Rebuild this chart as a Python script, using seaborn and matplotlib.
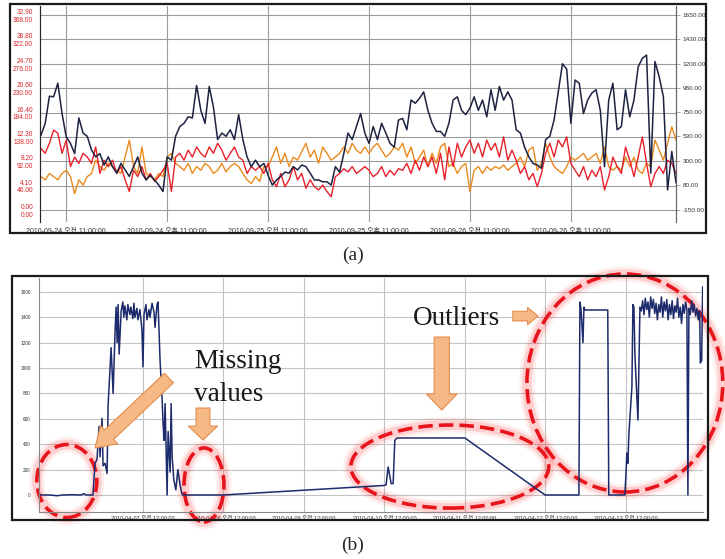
import matplotlib
matplotlib.use("Agg")
import matplotlib.pyplot as plt
import seaborn as sns
import numpy as np
import pandas as pd
from matplotlib.patches import Ellipse, Rectangle, FancyArrowPatch, ArrowStyle
from matplotlib.ticker import FixedLocator, FuncFormatter

# ---- panel (a): three sensors, half-hourly from 2010-09-24 08:00 ----
a_first_hour = 8.0
a_step = 0.5
navy_a = [540, 650, 900, 895, 1020, 740, 525, 465, 370, 700, 560, 530, 405, 340, 370, 265, 340, 250, 190, 280,
          220, 160, 250, 340, 190, 127, 170, 127, 80, 20, 340, 310, 530, 620, 650, 710, 700, 1000, 770, 650,
          990, 800, 500, 560, 530, 590, 500, 730, 500, 340, 250, 310, 250, 280, 170, 80, 127, 160, 200, 190,
          250, 220, 265, 250, 190, 127, 127, 110, 110, 80, 250, 200, 370, 560, 500, 620, 740, 560, 465, 620,
          500, 650, 560, 465, 430, 680, 695, 590, 865, 835, 880, 940, 770, 650, 575, 575, 530, 650, 865, 895,
          770, 730, 790, 895, 770, 865, 710, 960, 770, 990, 865, 940, 865, 590, 560, 430, 340, 280, 265, 235,
          500, 530, 680, 940, 1200, 1150, 650, 1050, 1020, 740, 865, 930, 960, 770, 250, 865, 1020, 590, 620, 960,
          710, 865, 1170, 1250, 1280, 190, 1220, 1080, 895, 35, 390, 100]
red_a = [116, 107, 126, 151, 145, 107, 132, 82, 100, 88, 107, 100, 88, 119, 69, 94, 82, 94, 69, 82,
         57, 35, 75, 63, 82, 57, 69, 54, 63, 75, 88, 35, 100, 107, 94, 113, 100, 119, 107, 100,
         119, 107, 126, 113, 94, 107, 119, 100, 94, 69, 82, 75, 82, 69, 88, 57, 44, 69, 44, 57,
         82, 57, 69, 41, 57, 44, 38, 47, 35, 25, 63, 69, 78, 72, 82, 69, 75, 82, 75, 63,
         69, 82, 63, 75, 66, 78, 75, 88, 69, 94, 75, 100, 82, 100, 69, 107, 57, 119, 82, 126,
         100, 119, 132, 107, 126, 100, 132, 113, 126, 100, 138, 94, 113, 94, 69, 82, 57, 69, 44, 69,
         107, 126, 100, 132, 119, 138, 88, 75, 63, 82, 57, 75, 63, 82, 38, 63, 100, 82, 69, 119,
         94, 63, 100, 138, 88, 44, 69, 82, 69, 94, 88, 69]
orange_a = [63, 57, 69, 63, 57, 69, 75, 63, 31, 57, 47, 63, 69, 94, 82, 75, 88, 82, 75, 69,
            100, 132, 82, 69, 119, 69, 63, 57, 69, 63, 100, 107, 88, 82, 75, 88, 69, 82, 75, 88,
            82, 69, 75, 88, 72, 82, 88, 82, 69, 57, 50, 63, 54, 82, 82, 100, 119, 88, 107, 82,
            100, 94, 110, 126, 100, 113, 88, 119, 107, 94, 100, 107, 119, 107, 126, 113, 107, 119, 107, 119,
            126, 113, 100, 107, 119, 113, 126, 100, 119, 88, 100, 113, 82, 107, 88, 119, 126, 82, 88, 69,
            82, 88, 35, 75, 82, 69, 82, 75, 82, 78, 85, 75, 82, 88, 100, 82, 113, 119, 75, 88,
            126, 100, 82, 75, 69, 82, 100, 94, 100, 107, 94, 100, 107, 88, 119, 82, 75, 82, 75, 100,
            82, 100, 75, 69, 88, 82, 132, 113, 94, 126, 157, 132]

a_left_ticks = [0, 46, 92, 138, 184, 230, 276, 322, 368]
a_left_alt = [0.00, 4.10, 8.20, 12.30, 16.40, 20.60, 24.70, 28.80, 32.90]
a_right_ticks = [-150, 80, 300, 530, 750, 980, 1200, 1430, 1650]
a_xticks = [11, 23, 35, 47, 59, 71]          # hours after 2010-09-24 00:00

# ---- panel (b): one sensor, hours after 2010-04-05 00:00 ----
hours_b = [17.0, 20.0, 22.5, 24.0, 27.0, 29.5, 30.5, 31.0, 33.1,
           33.7, 34.3, 34.9, 35.2, 35.8, 36.1, 36.7, 37.3,
           37.6, 38.2, 38.5, 39.1, 39.7, 40.0, 40.3, 40.6, 40.9, 41.5, 42.0, 42.3, 42.6, 43.2, 43.5, 44.1,
           44.4, 45.0, 45.3, 45.6, 46.2, 46.5, 47.1, 47.7, 48.0, 48.3, 48.9, 49.2, 49.8, 50.1, 50.7, 51.3,
           51.6, 52.2, 52.5,
           53.1, 53.7, 54.0, 54.3, 54.6, 54.9, 55.2, 55.5, 56.1, 56.4, 56.7, 57.2, 57.8, 58.4, 59.0, 59.6,
           59.9, 71.9,
           119.9, 120.5, 121.1, 121.4, 122.0, 122.6, 123.1, 123.7, 144.0,
           167.9, 178.0, 178.3, 178.6, 179.2, 179.5, 179.8, 186.6, 186.9, 191.7,
           192.0, 192.3, 192.6, 192.9, 193.5, 193.8, 194.1, 194.4, 194.7, 195.6, 196.2,
           196.6, 197.0, 197.4, 197.8, 198.2, 198.6, 199.0, 199.4, 199.8, 200.2, 200.6, 201.0, 201.4, 201.8,
           202.2, 202.6, 203.0, 203.4, 203.8, 204.2, 204.6, 205.0, 205.4, 205.8, 206.2, 206.6, 207.0, 207.4,
           207.8, 208.2, 208.6, 209.0, 209.4, 209.8, 210.2, 210.5, 210.8, 211.2, 211.6, 212.0, 212.4, 212.8,
           213.2, 213.6, 214.0, 214.2, 214.6, 214.9]
values_b = [0, 0, -6, 0, 2, 0, 10, 0, 0,
            250, 280, 540, 300, 604, 230, 250, 170,
            700, 1000, 1160, 800, 1300, 1480, 1200, 1500, 1110, 1450, 1520, 1400, 1490, 1380, 1500, 1420,
            1480, 1390, 1510, 1400, 1470, 1380, 1460, 1300, 1010, 1420, 1500, 1380, 1460, 1400, 1510, 1440,
            1320, 1500, 1520,
            1060, 760, 560, 430, 720, 350, 0, 500, 180, 720, 300, 120, 40, 200, 90, 10,
            0, 0,
            75, 80, 220, 180, 90, 90, 430, 449, 449,
            0, 0, 1520, 1470, 1200, 1480, 1457, 1457, 0, 0,
            150, 330, 250, 480, 720, 850, 1500, 1480, 1100, 590, 1480,
            1450, 1530, 1420, 1550, 1460, 1520, 1400, 1560, 1470, 1540, 1430, 1510, 1380, 1500,
            1440, 1560, 1400, 1520, 1450, 1540, 1380, 1500, 1420, 1530, 1390, 1490, 1440, 1550,
            1400, 1480, 1350, 1500, 1430, 1520, 1460, 0, 1470, 1420, 1530, 1440, 1500, 1410,
            1470, 1380, 1450, 1040, 1060, 1640]
b_yticks = [0, 200, 400, 600, 800, 1000, 1200, 1400, 1600]
b_xticks = [48, 72, 96, 120, 144, 168, 192]   # midnights 04-07 .. 04-13


def kor_time(base):
    base = pd.Timestamp(base)

    def fmt(h, pos):
        t = base + pd.Timedelta(hours=float(h))
        ampm = "오전" if t.hour < 12 else "오후"
        return f"{t:%Y-%m-%d} {ampm} {t.hour % 12 or 12:02d}:{t:%M:%S}"
    return FuncFormatter(fmt)


def glow_ellipse(ax, center, w, h):
    for lw, al in [(11, 0.08), (7, 0.16)]:
        ax.add_patch(Ellipse(center, w, h, fill=False, ec="#ff2a2a", lw=lw, alpha=al, clip_on=False))
    ax.add_patch(Ellipse(center, w, h, fill=False, ec="#e8141c", lw=2.6,
                         ls=(0, (4, 1.7)), clip_on=False))


def block_arrow(ax, start, end, tail, head_w, head_l):
    style = ArrowStyle.Simple(head_length=head_l, head_width=head_w, tail_width=tail)
    ax.add_patch(FancyArrowPatch(start, end, arrowstyle=style, mutation_scale=1,
                                 fc="#f6b985", ec="#e58c4c", lw=0.8, shrinkA=0, shrinkB=0,
                                 clip_on=False, zorder=6))


sns.set_style("white")
plt.rcParams["font.family"] = ["Liberation Sans", "Noto Sans CJK KR"]

W, H = 725, 559
fig = plt.figure(figsize=(7.25, 5.59), dpi=100)

# frames around both panels
fig.add_artist(Rectangle((10 / W, 1 - 233 / H), 696 / W, 229 / H, transform=fig.transFigure,
                         fill=False, ec="#1a1a1a", lw=1.6))
fig.add_artist(Rectangle((12 / W, 1 - 520 / H), 696 / W, 244 / H, transform=fig.transFigure,
                         fill=False, ec="#1a1a1a", lw=1.6))

# ================= panel (a) =================
ax = fig.add_axes([40 / W, 1 - 222 / H, 636 / W, 216 / H])
hours_a = a_first_hour + a_step * np.arange(len(navy_a))
sns.lineplot(x=hours_a, y=orange_a, ax=ax, color="#ea8a1e", lw=1.0)
sns.lineplot(x=hours_a, y=red_a, ax=ax, color="#e8202a", lw=1.0)
ax.set_xlim(7.88, 83.5)
ax.set_ylim(-22.6, 385)
ax.yaxis.set_major_locator(FixedLocator(a_left_ticks))
ax.set_yticklabels([f"{b:.2f}\n{v:.2f}" for b, v in zip(a_left_alt, a_left_ticks)],
                   color="#d8282a", fontsize=4.8, linespacing=1.15)
ax.xaxis.set_major_locator(FixedLocator(a_xticks))
ax.xaxis.set_major_formatter(kor_time("2010-09-24"))
ax.tick_params(axis="x", labelsize=5, colors="#333333", length=3, pad=1, width=0.6)
ax.tick_params(axis="y", length=0, pad=5)
ax.grid(True, color="#9c9c9c", lw=0.8)
ax.set_axisbelow(True)
for s in ["top", "bottom"]:
    ax.spines[s].set_visible(False)
ax.spines["left"].set_color("#666666")
ax.spines["right"].set_color("#666666")

ax2 = ax.twinx()
sns.lineplot(x=hours_a, y=navy_a, ax=ax2, color="#1c2240", lw=1.1)
ax2.set_ylim(-261, 1733)
ax2.yaxis.set_major_locator(FixedLocator(a_right_ticks))
ax2.set_yticklabels([f"{v:.2f}" for v in a_right_ticks], fontsize=4.6, color="#333333")
ax2.tick_params(axis="y", length=3, pad=2, width=0.6, color="#999999")
for s in ["top", "bottom"]:
    ax2.spines[s].set_visible(False)
ax2.spines["right"].set_color("#666666")
ax2.set_xlim(7.88, 83.5)

fig.text(353 / W, 1 - 255 / H, "(a)", ha="center", va="center", fontsize=14,
         family="Liberation Serif")

# ================= panel (b) =================
bx = fig.add_axes([39 / W, 1 - 512 / H, 664 / W, 234.5 / H])
sns.lineplot(x=hours_b, y=values_b, ax=bx, color="#1d2b6c", lw=1.1, sort=False)
bx.set_xlim(17.0, 215.0)
bx.set_ylim(-134, 1713)
bx.yaxis.set_major_locator(FixedLocator(b_yticks))
bx.xaxis.set_major_locator(FixedLocator(b_xticks))
bx.xaxis.set_major_formatter(kor_time("2010-04-05"))
bx.tick_params(axis="x", labelsize=4, colors="#333333", length=2, pad=1, width=0.5)
bx.tick_params(axis="y", labelsize=3.4, colors="#333333", length=3, pad=3, width=0.5)
bx.grid(True, color="#c4c4c4", lw=0.8)
bx.set_axisbelow(True)
for s in ["top", "right"]:
    bx.spines[s].set_visible(False)
bx.spines["left"].set_color("#888888")
bx.spines["bottom"].set_color("#888888")
bx.set_xlabel("")
bx.set_ylabel("")

# red dashed circles around the problem regions
glow_ellipse(bx, (25.3, 110), 17.9, 575)
glow_ellipse(bx, (66.2, 79), 11.9, 583)
glow_ellipse(bx, (139.5, 224), 59.0, 654)
glow_ellipse(bx, (191.7, 882), 58.4, 1717)

# orange arrows
block_arrow(bx, (55.75, 921), (33.7, 370), 9.4, 18, 14)
block_arrow(bx, (65.9, 685), (65.9, 433), 10, 21, 10)
block_arrow(bx, (137.1, 1244), (137.1, 669), 11, 22, 11.5)
block_arrow(bx, (158.3, 1409), (165.8, 1409), 7, 12.5, 7.5)

serif = dict(family="Liberation Serif", fontsize=19.5, color="#1a1a1a", zorder=7)
bx.text(63.2, 1000, "Missing", ha="left", va="baseline", **serif)
bx.text(63.2, 740, "values", ha="left", va="baseline", **serif)
bx.text(128.5, 1339, "Outliers", ha="left", va="baseline", **serif)

fig.text(353 / W, 1 - 545 / H, "(b)", ha="center", va="center", fontsize=14,
         family="Liberation Serif")

fig.savefig("out.png", dpi=100)
